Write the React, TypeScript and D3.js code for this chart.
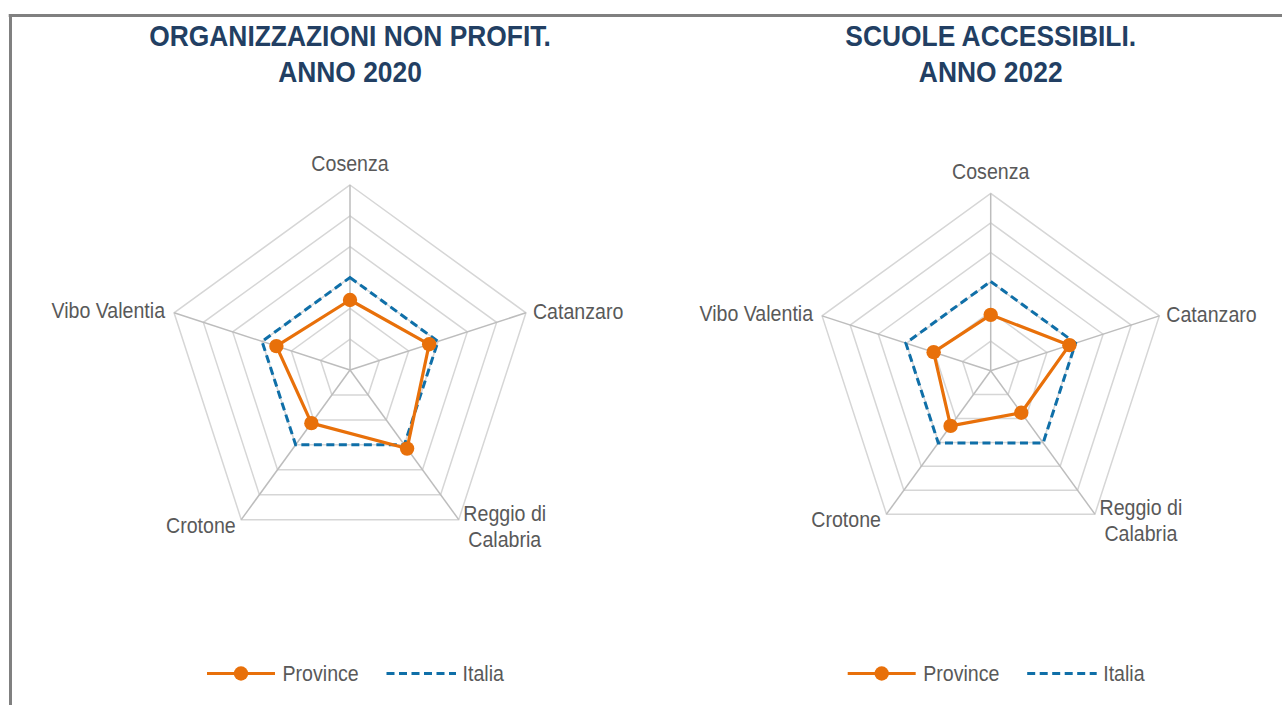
import React from "react";
import * as d3 from "d3";

// ---------- DATA ----------
const CATEGORIES = ["Cosenza", "Catanzaro", "Reggio di Calabria", "Crotone", "Vibo Valentia"];
const CATEGORY_LINES = [["Cosenza"], ["Catanzaro"], ["Reggio di", "Calabria"], ["Crotone"], ["Vibo Valentia"]];
const SERIES_NAMES = ["Province", "Italia"];

const NONPROFIT_TITLE = ["ORGANIZZAZIONI NON PROFIT.", "ANNO 2020"];
const NONPROFIT_PROVINCE = [45.4, 54, 63, 42.6, 50.2];
const NONPROFIT_ITALIA = [60, 60, 60, 60, 60];
const NONPROFIT_TICKS = [20, 40, 60, 80, 100, 120];

const SCUOLE_TITLE = ["SCUOLE ACCESSIBILI.", "ANNO 2022"];
const SCUOLE_PROVINCE = [18.9, 28, 17.6, 23.1, 20.3];
const SCUOLE_ITALIA = [30.2, 30.2, 30.2, 30.2, 30.2];
const SCUOLE_TICKS = [10, 20, 30, 40, 50, 60];

// ---------- STYLE ----------
const W = 1282;
const H = 705;
const ORANGE = "#E8700A";
const BLUE = "#0F6FA8";
const TITLE_COLOR = "#223F63";
const LABEL_COLOR = "#595959";
const RING_COLOR = "#D6D6D6";
const SPOKE_COLOR = "#BDBDBD";
const FONT = "'Liberation Sans', Arial, sans-serif";
const SY_LABEL = 1.15;
const SY_TITLE = 1.15;
const LABEL_SIZE = 19.6;
const TITLE_SIZE = 26.4;

type LabelPos = { dx: number; dy: number; anchor: string };
const LABEL_OFFSETS: LabelPos[] = [
  { dx: 0, dy: -14, anchor: "middle" },
  { dx: 7, dy: 6, anchor: "start" },
  { dx: 46, dy: 1, anchor: "middle" },
  { dx: -5.5, dy: 13, anchor: "end" },
  { dx: -9, dy: 5.5, anchor: "end" },
];

function STxt(props: {
  x: number;
  y: number;
  sy: number;
  anchor: string;
  size: number;
  weight?: string;
  fill: string;
  children: React.ReactNode;
}) {
  return (
    <text
      transform={`translate(${props.x},${props.y}) scale(1,${props.sy})`}
      textAnchor={props.anchor}
      fontSize={props.size}
      fontWeight={props.weight || "normal"}
      fill={props.fill}
      fontFamily={FONT}
    >
      {props.children}
    </text>
  );
}

function Radar(props: {
  cx: number;
  cy: number;
  radius: number;
  title: string[];
  province: number[];
  italia: number[];
  ticks: number[];
}) {
  const { cx, cy, radius, title, province, italia, ticks } = props;
  const maxV = ticks[ticks.length - 1];
  const r = d3.scaleLinear().domain([0, maxV]).range([0, radius]);
  const n = CATEGORIES.length;
  const angle = (i: number) => (i * 2 * Math.PI) / n;

  const radial = d3
    .lineRadial<number>()
    .angle((_, i) => angle(i))
    .radius((d) => r(d))
    .curve(d3.curveLinearClosed);

  const ringPath = (v: number) => radial(CATEGORIES.map(() => v)) || "";

  return (
    <g>
      {title.map((t, i) => (
        <STxt key={i} x={cx} y={46 + i * 36} sy={SY_TITLE} anchor="middle" size={TITLE_SIZE} weight="bold" fill={TITLE_COLOR}>
          {t}
        </STxt>
      ))}
      <g transform={`translate(${cx},${cy})`}>
        {ticks.map((t) => (
          <path key={t} d={ringPath(t)} fill="none" stroke={RING_COLOR} strokeWidth={1.5} />
        ))}
        {CATEGORIES.map((c, i) => {
          const [x, y] = d3.pointRadial(angle(i), r(maxV));
          return <line key={c} x1={0} y1={0} x2={x} y2={y} stroke={SPOKE_COLOR} strokeWidth={1.5} />;
        })}
        <path d={radial(italia) || ""} fill="none" stroke={BLUE} strokeWidth={3} strokeDasharray="8,4.5" />
        <path d={radial(province) || ""} fill="none" stroke={ORANGE} strokeWidth={3.2} strokeLinejoin="round" />
        {province.map((v, i) => {
          const [x, y] = d3.pointRadial(angle(i), r(v));
          return <circle key={i} cx={x} cy={y} r={7.2} fill={ORANGE} />;
        })}
        {CATEGORY_LINES.map((lines, i) => {
          const [vx, vy] = d3.pointRadial(angle(i), r(maxV));
          const o = LABEL_OFFSETS[i];
          return lines.map((ln, j) => (
            <STxt
              key={`${i}-${j}`}
              x={vx + o.dx}
              y={vy + o.dy + j * 26}
              sy={SY_LABEL}
              anchor={o.anchor}
              size={LABEL_SIZE}
              fill={LABEL_COLOR}
            >
              {ln}
            </STxt>
          ));
        })}
      </g>
      <g transform={`translate(${cx},673.5)`}>
        <line x1={-143} x2={-75} y1={0} y2={0} stroke={ORANGE} strokeWidth={3} />
        <circle cx={-109} cy={0} r={7.2} fill={ORANGE} />
        <STxt x={-67.5} y={7.5} sy={SY_LABEL} anchor="start" size={LABEL_SIZE} fill={LABEL_COLOR}>
          {SERIES_NAMES[0]}
        </STxt>
        <line x1={36.5} x2={106} y1={0} y2={0} stroke={BLUE} strokeWidth={3} strokeDasharray="8,4.5" />
        <STxt x={112.5} y={7.5} sy={SY_LABEL} anchor="start" size={LABEL_SIZE} fill={LABEL_COLOR}>
          {SERIES_NAMES[1]}
        </STxt>
      </g>
    </g>
  );
}

export default function App() {
  return (
    <svg width={W} height={H} style={{ position: "absolute", left: 0, top: 0, background: "#fff" }}>
      <rect x={0} y={0} width={W} height={H} fill="#fff" />
      <line x1={8.7} x2={W} y1={15.5} y2={15.5} stroke="#808080" strokeWidth={3} />
      <line x1={10.5} x2={10.5} y1={14} y2={H} stroke="#808080" strokeWidth={3} />
      <Radar
        cx={350}
        cy={370}
        radius={185}
        title={NONPROFIT_TITLE}
        province={NONPROFIT_PROVINCE}
        italia={NONPROFIT_ITALIA}
        ticks={NONPROFIT_TICKS}
      />
      <Radar
        cx={990.7}
        cy={370.7}
        radius={177.3}
        title={SCUOLE_TITLE}
        province={SCUOLE_PROVINCE}
        italia={SCUOLE_ITALIA}
        ticks={SCUOLE_TICKS}
      />
    </svg>
  );
}
